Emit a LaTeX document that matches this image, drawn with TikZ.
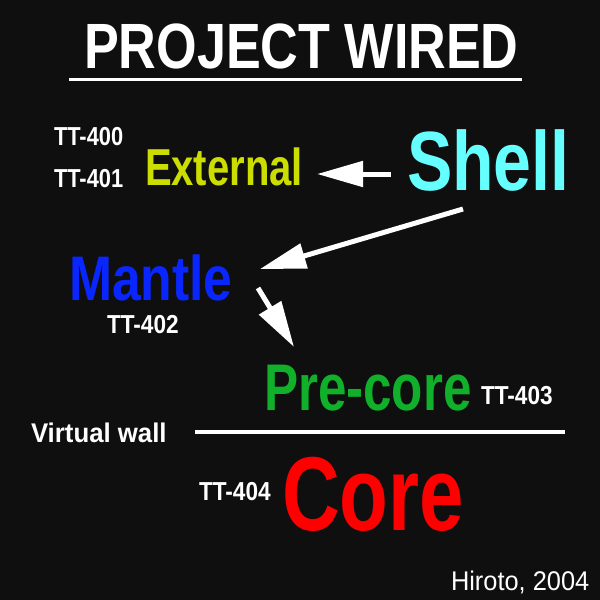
\documentclass[tikz,border=0pt]{standalone}
\usepackage{graphicx}
\usepackage{fontspec}
\setmainfont{Liberation Sans}
\usetikzlibrary{arrows.meta}
\definecolor{bgc}{HTML}{0F0F0F}
\definecolor{extc}{HTML}{CCDD00}
\definecolor{shellc}{HTML}{66FFFF}
\definecolor{mantlec}{HTML}{0A26FF}
\definecolor{prec}{HTML}{10B02A}
\definecolor{corec}{HTML}{FF0000}
\newcommand\lbl[3]{\fontsize{#1}{#1}\selectfont\scalebox{#2}[1]{#3}}
\tikzset{
  txt/.style={inner sep=0pt, outer sep=0pt, anchor=base west, font=\bfseries, text=white},
  arr/.style={draw=white, line width=5pt, -{Triangle[length=46pt,width=25pt]}},
  rule/.style={draw=white, line width=3pt}
}
\begin{document}
\begin{tikzpicture}[x=1pt,y=-1pt]
\fill[bgc] (0,0) rectangle (600,600);
\useasboundingbox (0,0) rectangle (600,600);
% title
\node[txt] (title) at (84,68) {\lbl{64}{0.815}{PROJECT WIRED}};
\coordinate (ul1) at (69,79);
\coordinate (ul2) at (522,79);
\draw[rule] (ul1) -- (ul2);
% labels
\node[txt] (tt400) at (54,145) {\lbl{26}{0.84}{TT-400}};
\node[txt] (tt401) at (54,187) {\lbl{26}{0.84}{TT-401}};
\node[txt, text=extc] (ext) at (145,185) {\lbl{52}{0.77}{External}};
\node[txt, text=shellc] (shell) at (407,190) {\lbl{84}{0.81}{Shell}};
\node[txt, text=mantlec] (mantle) at (69,300) {\lbl{63}{0.82}{Mantle}};
\node[txt] (tt402) at (107,333) {\lbl{26}{0.87}{TT-402}};
\node[txt, text=prec] (pre) at (264,410) {\lbl{66}{0.775}{Pre-core}};
\node[txt] (tt403) at (481,404) {\lbl{26}{0.87}{TT-403}};
\node[txt] (vw) at (31,442) {\lbl{27}{0.955}{Virtual wall}};
\node[txt, text=corec] (core) at (282,530) {\lbl{105}{0.76}{Core}};
\node[txt] (tt404) at (199,500) {\lbl{26}{0.87}{TT-404}};
\node[txt, font=\mdseries] (credit) at (451,590) {\lbl{27}{0.94}{Hiroto, 2004}};
% virtual wall line
\coordinate (w1) at (195,432);
\coordinate (w2) at (565,432);
\draw[draw=white, line width=4pt] (w1) -- (w2);
% arrows
\coordinate (a1s) at (391,174);
\coordinate (a1e) at (317,174);
\coordinate (a2s) at (463,209);
\coordinate (a2e) at (260,269);
\coordinate (a3s) at (258,288);
\coordinate (a3e) at (294,347);
\draw[arr] (a1s) -- (a1e);
\draw[arr] (a2s) -- (a2e);
\draw[arr] (a3s) -- (a3e);
\end{tikzpicture}
\end{document}
